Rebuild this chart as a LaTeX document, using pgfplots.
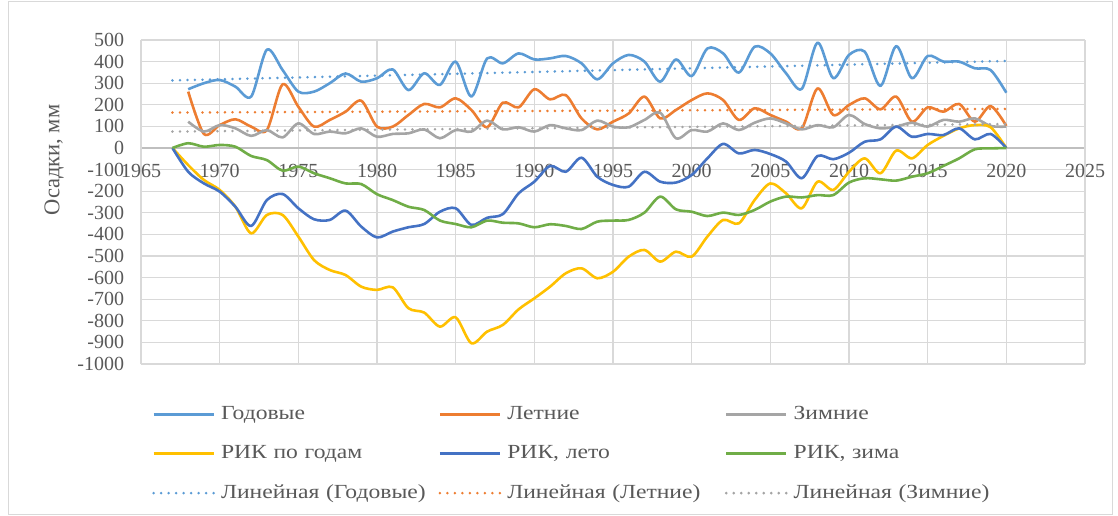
\documentclass[border=0pt]{standalone}
\usepackage{pgfplots}
\usepackage{pgfplotstable}
\pgfplotsset{compat=1.18}
\usepackage{fontspec}
\setmainfont{Liberation Serif}
\newfontfamily\legfont{Liberation Serif}[FakeStretch=1.18]
\definecolor{cGod}{HTML}{5B9BD5}
\definecolor{cLet}{HTML}{ED7D31}
\definecolor{cZim}{HTML}{A5A5A5}
\definecolor{cRG}{HTML}{FFC000}
\definecolor{cRL}{HTML}{4472C4}
\definecolor{cRZ}{HTML}{70AD47}
\definecolor{gridc}{HTML}{D9D9D9}
\definecolor{axisc}{HTML}{BFBFBF}
\definecolor{textc}{HTML}{595959}
\pgfplotstableread{
year god let zim rg rl rz
1967 nan nan nan 0 0 0
1968 272 261 122 -79 -110 22
1969 300 65 76 -148 -164 6
1970 315 106 106 -194 -202 14
1971 284 133 91 -272 -272 6
1972 238 99 56 -395 -361 -37
1973 455 83 83 -310 -241 -56
1974 361 295 49 -310 -213 -105
1975 261 191 114 -410 -279 -86
1976 261 99 65 -519 -330 -117
1977 300 130 76 -565 -333 -140
1978 345 168 68 -588 -290 -164
1979 307 219 91 -642 -364 -167
1980 323 99 52 -657 -414 -214
1981 364 99 65 -645 -387 -241
1982 268 153 68 -742 -367 -272
1983 346 204 86 -762 -352 -287
1984 292 188 45 -827 -295 -336
1985 400 230 83 -784 -279 -352
1986 238 176 76 -904 -356 -367
1987 415 96 127 -850 -323 -336
1988 392 210 86 -819 -306 -346
1989 438 188 96 -747 -210 -349
1990 410 272 76 -696 -156 -367
1991 415 225 106 -642 -83 -353
1992 426 245 91 -580 -110 -361
1993 392 137 83 -557 -45 -375
1994 318 86 127 -603 -133 -341
1995 392 122 99 -573 -171 -336
1996 431 160 96 -503 -179 -333
1997 400 238 130 -472 -110 -299
1998 307 137 164 -526 -156 -225
1999 410 176 45 -480 -160 -284
2000 333 222 83 -503 -125 -295
2001 461 253 76 -410 -48 -315
2002 438 222 114 -333 19 -299
2003 349 130 83 -349 -25 -310
2004 469 184 117 -241 -9 -287
2005 438 153 137 -164 -28 -248
2006 346 122 114 -210 -63 -225
2007 274 91 86 -279 -140 -229
2008 488 276 106 -156 -37 -218
2009 323 153 96 -194 -52 -218
2010 431 199 153 -110 -22 -160
2011 446 230 111 -48 29 -140
2012 287 179 91 -117 40 -145
2013 472 238 99 -12 99 -151
2014 323 122 117 -48 52 -133
2015 426 188 99 14 65 -117
2016 400 168 130 56 60 -83
2017 400 204 122 91 91 -48
2018 369 122 137 106 40 -6
2019 361 194 102 96 65 -2
2020 256 102 99 0 0 0
}\datatable
\begin{document}
\fontsize{20bp}{24bp}\selectfont
\begin{tikzpicture}
\path[use as bounding box] (0,0) rectangle (1118bp,516bp);
\draw[gridc, line width=1bp] (8.5bp,1.5bp) rectangle (1112.5bp,514.5bp);
\begin{axis}[
  at={(141bp,152bp)}, anchor=south west,
  scale only axis, width=944bp, height=324bp,
  xmin=1965, xmax=2025, ymin=-1000, ymax=500,
  xtick={1965,1970,...,2025},
  ytick={-1000,-900,...,500},
  /pgf/number format/1000 sep={},
  /pgf/number format/assume math mode=true,
  grid=major,
  major grid style={gridc, line width=1.2bp},
  major tick length=0pt,
  axis x line=middle,
  hide obscured x ticks=false,
  x axis line style={draw=axisc, line width=1.5bp, -},
  y axis line style={draw=gridc, line width=1.2bp},
  tick label style={font=\fontsize{20bp}{24bp}\selectfont, text=textc},
  xticklabel style={yshift=-9bp},
  yticklabel style={xshift=-10bp},
  ylabel={Осадки, мм},
  every axis y label/.style={at={(axis description cs:-0.092,0.63)}, rotate=90, anchor=center, font=\fontsize{22.5bp}{27bp}\selectfont, text=textc},
  legend columns=3,
  legend cell align=left,
  legend image code/.code={\draw[#1] (0bp,0bp) -- (60bp,0bp);},
  legend style={at={(axis description cs:0.0117,-0.124)}, anchor=north west, draw=none, fill=none, inner sep=0pt,
    font=\legfont\fontsize{20bp}{24bp}\selectfont, text=textc, row sep=19bp,
    nodes={text width=205bp, inner xsep=2bp},
    /tikz/every odd column/.append style={column sep=4bp},
    /tikz/every even column/.append style={column sep=10.5bp}},
  every axis plot/.append style={line width=2.6bp, smooth, tension=0.5, line join=round},
]
\addplot[cGod] table[x=year, y=god] {\datatable};
\addlegendentry{Годовые}
\addplot[cLet] table[x=year, y=let] {\datatable};
\addlegendentry{Летние}
\addplot[cZim] table[x=year, y=zim] {\datatable};
\addlegendentry{Зимние}
\addplot[cRG] table[x=year, y=rg] {\datatable};
\addlegendentry{РИК по годам}
\addplot[cRL] table[x=year, y=rl] {\datatable};
\addlegendentry{РИК, лето}
\addplot[cRZ] table[x=year, y=rz] {\datatable};
\addlegendentry{РИК, зима}
\addplot[cGod, line cap=round, dash pattern=on 0bp off 7.5bp, line width=2.8bp] coordinates {(1967,313) (2020,403)};
\addlegendentry{Линейная (Годовые)}
\addplot[cLet, line cap=round, dash pattern=on 0bp off 7.5bp, line width=2.8bp] coordinates {(1967,164) (2020,181)};
\addlegendentry{Линейная (Летние)}
\addplot[cZim, line cap=round, dash pattern=on 0bp off 7.5bp, line width=2.8bp] coordinates {(1967,76) (2020,111)};
\addlegendentry{Линейная (Зимние)}
\end{axis}
\end{tikzpicture}
\end{document}
